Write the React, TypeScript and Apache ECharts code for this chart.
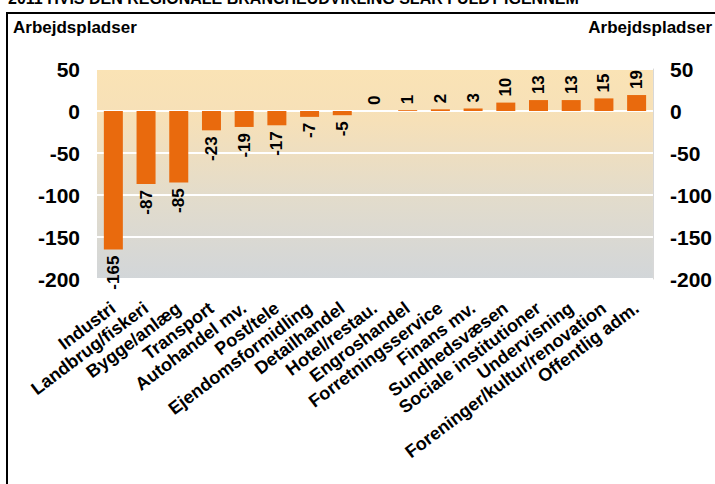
import React, { useEffect, useRef } from "react";
import * as echarts from "echarts";

const categories: string[] = [
  "Industri",
  "Landbrug/fiskeri",
  "Bygge/anlæg",
  "Transport",
  "Autohandel mv.",
  "Post/tele",
  "Ejendomsformidling",
  "Detailhandel",
  "Hotel/restau.",
  "Engroshandel",
  "Forretningsservice",
  "Finans mv.",
  "Sundhedsvæsen",
  "Sociale institutioner",
  "Undervisning",
  "Foreninger/kultur/renovation",
  "Offentlig adm.",
];

const values: number[] = [-165, -87, -85, -23, -19, -17, -7, -5, 0, 1, 2, 3, 10, 13, 13, 15, 19];

const yTicks = { min: -200, max: 50, interval: 50 };
const axisTitle = "Arbejdspladser";
const pageTitle = "2011 HVIS DEN REGIONALE BRANCHEUDVIKLING SLÅR FULDT IGENNEM";

const FONT = "Liberation Sans, Arial, sans-serif";

export default function App() {
  const ref = useRef<HTMLDivElement>(null);

  useEffect(() => {
    document.body.style.margin = "0";
    if (!ref.current) return;
    const chart = echarts.init(ref.current, undefined, { renderer: "svg" });

    const data = values.map((v) => ({
      value: v,
      label:
        v < 0
          ? { position: "bottom", align: "right", verticalAlign: "middle", rotate: 90, distance: 6 }
          : { position: "top", align: "left", verticalAlign: "middle", rotate: 90, distance: 6 },
    }));

    const yAxisCommon = {
      type: "value",
      min: yTicks.min,
      max: yTicks.max,
      interval: yTicks.interval,
      axisTick: { show: false },
      axisLabel: {
        fontFamily: FONT,
        fontWeight: "bold",
        fontSize: 21,
        color: "#000",
        margin: 17,
      },
    };

    chart.setOption({
      animation: false,
      grid: {
        left: 97,
        right: 62,
        top: 69,
        bottom: 205,
        show: true,
        borderWidth: 0,
        backgroundColor: new echarts.graphic.LinearGradient(0, 0, 0, 1, [
          { offset: 0, color: "#FAE3B5" },
          { offset: 0.25, color: "#F6E0B8" },
          { offset: 0.6, color: "#E3DCCB" },
          { offset: 1, color: "#D2D6D9" },
        ]),
      },
      xAxis: {
        type: "category",
        data: categories,
        axisLine: { show: false },
        axisTick: { show: false },
        axisLabel: {
          interval: 0,
          rotate: 37,
          margin: 27,
          fontFamily: FONT,
          fontWeight: "bold",
          fontSize: 18,
          color: "#000",
        },
      },
      yAxis: [
        {
          ...yAxisCommon,
          position: "left",
          axisLine: { show: false },
          splitLine: { show: true, lineStyle: { color: "#FFFFFF", width: 2 } },
        },
        {
          ...yAxisCommon,
          position: "right",
          axisLine: { show: true, lineStyle: { color: "#D8D8D8", width: 1 } },
          splitLine: { show: false },
        },
      ],
      series: [
        {
          type: "bar",
          data,
          barWidth: 19,
          itemStyle: { color: "#E96A0D" },
          label: {
            show: true,
            fontFamily: FONT,
            fontWeight: "bold",
            fontSize: 17,
            color: "#000",
          },
        },
      ],
      graphic: [
        {
          type: "text",
          left: 8,
          top: -10,
          style: {
            text: pageTitle,
            font: `bold 16px ${FONT}`,
            fill: "#000",
          },
        },
        {
          type: "line",
          shape: { x1: 6, y1: 13, x2: 715, y2: 13 },
          style: { stroke: "#000", lineWidth: 2 },
        },
        {
          type: "line",
          shape: { x1: 7, y1: 13, x2: 7, y2: 484 },
          style: { stroke: "#000", lineWidth: 2 },
        },
        {
          type: "text",
          left: 13,
          top: 19,
          style: {
            text: axisTitle,
            font: `bold 17px ${FONT}`,
            fill: "#000",
          },
        },
        {
          type: "text",
          right: 3,
          top: 19,
          style: {
            text: axisTitle,
            font: `bold 17px ${FONT}`,
            fill: "#000",
          },
        },
      ],
    });

    return () => chart.dispose();
  }, []);

  return (
    <div
      ref={ref}
      style={{ position: "fixed", left: 0, top: 0, width: 715, height: 484, background: "#fff" }}
    />
  );
}
